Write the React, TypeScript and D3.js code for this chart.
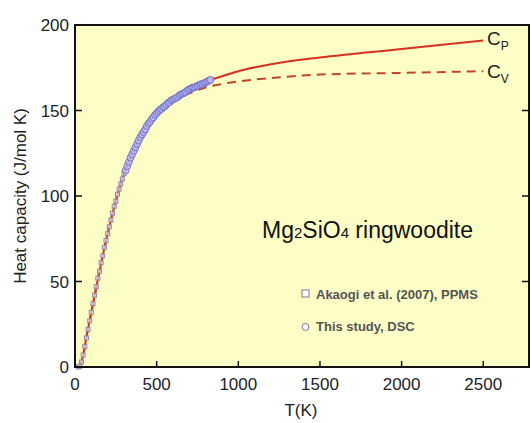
import React from "react";
import * as d3 from "d3";

// model curves
const curveT = [30, 50, 75, 100, 150, 200, 250, 300, 350, 400, 450, 500, 600, 700, 800, 900, 1000, 1200, 1500, 2000, 2500];
const cpValues = [0, 7, 20, 32, 56, 78, 97, 113, 125, 135, 143, 149, 157, 163, 167, 170, 173, 177, 181, 186, 191];
const cvValues = [0, 7, 20, 32, 56, 78, 97, 113, 125, 134, 142, 148, 155, 160, 163.5, 165.5, 167, 169, 171, 172, 173];

// Akaogi et al. (2007), PPMS
const ppmsT = [20, 30, 40, 50, 60, 70, 80, 90, 100, 110, 120, 130, 140, 150, 160, 170, 180, 190, 200, 210, 220, 230, 240, 250, 260, 270, 280, 290, 300];
const ppmsCp = [0, 0.5, 3, 7, 12, 17, 22, 27, 32, 37, 42, 47, 52, 56, 61, 65, 70, 74, 78, 82, 86, 90, 94, 97, 101, 104, 107, 110, 113];

// This study, DSC
const dscT = [310, 320, 330, 340, 350, 360, 370, 380, 390, 400, 410, 420, 430, 440, 450, 460, 470, 480, 490, 500, 510, 520, 530, 540, 550, 560, 570, 580, 590, 600, 610, 620, 630, 640, 650, 660, 670, 680, 690, 700, 710, 720, 730, 740, 750, 760, 770, 780, 790, 800, 810, 820, 830];
const dscCp = [115.5, 118, 120.5, 123, 125, 127, 129, 131, 133, 135, 136.5, 138, 139.5, 141.5, 143, 144, 145.5, 146.5, 148, 149, 150, 151, 151.5, 152.5, 153, 154, 155, 155.5, 156.5, 157, 157.5, 158, 158.5, 159.5, 160, 160.5, 161, 161.5, 162.5, 163, 163.5, 164, 164, 164.5, 165, 165.5, 166, 166, 166.5, 167, 167.5, 168, 168.5];

const xTicks = [0, 500, 1000, 1500, 2000, 2500];
const yTicks = [0, 50, 100, 150, 200];

const font = "'Liberation Sans', Arial, sans-serif";

export default function App() {
  const W = 531, H = 423;
  const m = { left: 75, right: 529, top: 25, bottom: 367 };

  const x = d3.scaleLinear().domain([0, 2780]).range([m.left, m.right]);
  const y = d3.scaleLinear().domain([0, 200]).range([m.bottom, m.top]);

  const line = d3
    .line<number>()
    .x((d, i) => x(curveT[i]))
    .y((d) => y(d))
    .curve(d3.curveMonotoneX);

  return (
    <svg width={W} height={H} style={{ position: "absolute", left: 0, top: 0, background: "#fff" }}>
      <rect x={m.left} y={m.top} width={m.right - m.left} height={m.bottom - m.top} fill="#fdfdc6" />

      <path d={line(cvValues) || ""} fill="none" stroke="#c2472a" strokeWidth={2} strokeDasharray="9,6" />
      <path d={line(cpValues) || ""} fill="none" stroke="#d8311f" strokeWidth={2} />

      {ppmsT.map((t, i) => (
        <rect key={"p" + i} x={x(t) - 2} y={y(ppmsCp[i]) - 2} width={4} height={4}
          fill="#f4f4fa" fillOpacity={0.6} stroke="#8a8aa8" strokeWidth={1} />
      ))}
      {dscT.map((t, i) => (
        <circle key={"d" + i} cx={x(t)} cy={y(dscCp[i]) + 1} r={3.4}
          fill="#bcbcee" fillOpacity={0.8} stroke="#7272cc" strokeWidth={1} />
      ))}

      {/* frame */}
      <rect x={m.left} y={m.top} width={m.right - m.left} height={m.bottom - m.top} fill="none" stroke="#111" strokeWidth={2} />

      {xTicks.map((t) => (
        <g key={"x" + t}>
          <line x1={x(t)} x2={x(t)} y1={m.bottom} y2={m.bottom - 6} stroke="#111" strokeWidth={1.5} />
          <text x={x(t)} y={390} textAnchor="middle" fontFamily={font} fontSize={17} fill="#222">{t}</text>
        </g>
      ))}
      {yTicks.map((t) => (
        <g key={"y" + t}>
          <line x1={m.left} x2={m.left + 7} y1={y(t)} y2={y(t)} stroke="#111" strokeWidth={1.5} />
          <line x1={m.right} x2={m.right - 7} y1={y(t)} y2={y(t)} stroke="#111" strokeWidth={1.5} />
          <text x={69} y={y(t) + 6} textAnchor="end" fontFamily={font} fontSize={17} fill="#222">{t}</text>
        </g>
      ))}

      <text x={301} y={416} textAnchor="middle" fontFamily={font} fontSize={17} fill="#222">T(K)</text>
      <text transform={`translate(26,196) rotate(-90)`} textAnchor="middle" fontFamily={font} fontSize={17} fill="#222">
        Heat capacity (J/mol K)
      </text>

      <text x={487} y={45} fontFamily={font} fontSize={19} fill="#222">
        C<tspan fontSize={12} dy={5}>P</tspan>
      </text>
      <text x={487} y={78} fontFamily={font} fontSize={19} fill="#222">
        C<tspan fontSize={12} dy={5}>V</tspan>
      </text>

      <text x={262} y={238} fontFamily={font} fontSize={23} fill="#111">
        Mg<tspan fontSize={15}>2</tspan>SiO<tspan fontSize={15}>4</tspan> ringwoodite
      </text>

      <rect x={302} y={290} width={7} height={7} fill="#fff" stroke="#7a7a90" strokeWidth={1} />
      <text x={316} y={299} fontFamily={font} fontSize={13} fontWeight="bold" fill="#555">Akaogi et al. (2007), PPMS</text>
      <circle cx={305.5} cy={327} r={3.5} fill="#fff" stroke="#7a7a90" strokeWidth={1} />
      <text x={316} y={331} fontFamily={font} fontSize={13} fontWeight="bold" fill="#555">This study, DSC</text>
    </svg>
  );
}
